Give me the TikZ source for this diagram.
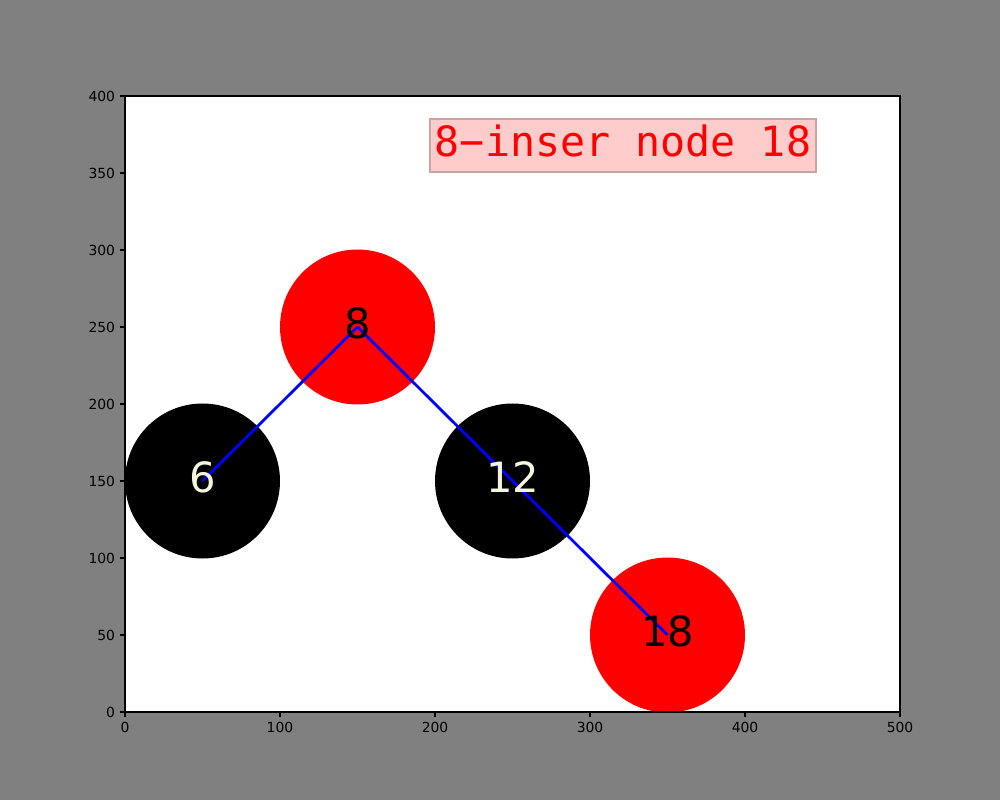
\documentclass[tikz,border=0pt]{standalone}
\usepackage{fontspec}
\setmainfont{DejaVu Sans}
\newfontfamily\titlefont{DejaVu Sans Mono}
\usetikzlibrary{positioning}
\definecolor{figgray}{RGB}{128,128,128}
\definecolor{labelbeige}{RGB}{245,245,220}
\definecolor{titlefill}{RGB}{255,204,204}
\definecolor{titleedge}{RGB}{204,163,163}
\tikzset{
    redvertex/.style={circle,fill=red,minimum size=111.6pt,inner sep=0pt},
    blackvertex/.style={circle,fill=black,minimum size=111.6pt,inner sep=0pt},
    treeedge/.style={draw=blue,line width=2pt},
    vertexlabel/.style={font=\fontsize{30}{36}\selectfont,inner sep=0pt,yshift=2.5pt},
    ticklabel/.style={font=\fontsize{10}{12}\selectfont,inner sep=0pt},
    tickline/.style={line width=0.8pt},
    titlebox/.style={fill=titlefill,draw=titleedge,line width=1pt,text=red,
        font=\titlefont\fontsize{30}{36}\selectfont,inner sep=0pt,
        minimum width=278pt,minimum height=38.2pt,text depth=6.5pt}
}
\begin{document}
\begin{tikzpicture}[x=0.72pt,y=0.72pt]
    % figure and axes area
    \fill[figgray] (0,0) rectangle (1000,800);
    \fill[white] (125,88) rectangle (900,704);
    \begin{scope}[shift={(125,88)},xscale=1.55,yscale=1.54]
        \node[redvertex] (n8) at (150,250) {};
        \node[blackvertex] (n6) at (50,150) {};
        \node[blackvertex] (n12) at (250,150) {};
        \node[redvertex] (n18) at (350,50) {};
        \draw[treeedge] (n8.center) -- (n6.center);
        \draw[treeedge] (n8.center) -- (n12.center);
        \draw[treeedge] (n12.center) -- (n18.center);
        \node[vertexlabel,text=black] (t8) at (n8) {8};
        \node[vertexlabel,text=labelbeige] (t6) at (n6) {6};
        \node[vertexlabel,text=labelbeige] (t12) at (n12) {12};
        \node[vertexlabel,text=black] (t18) at (n18) {18};
    \end{scope}
    % spines and ticks
    \draw[tickline] (125,88) rectangle (900,704);
    \foreach \v in {0,100,...,500} {
        \draw[tickline] ({125+1.55*\v},88) -- ++(0,-4.86);
        \node[ticklabel,anchor=north] (xt\v) at ({125+1.55*\v},78.3) {\v};
    }
    \foreach \v in {0,50,...,400} {
        \draw[tickline] (125,{88+1.54*\v}) -- ++(-4.86,0);
        \node[ticklabel,anchor=east] (yt\v) at (115.3,{88+1.54*\v}) {\v};
    }
    % title
    \node[titlebox] (title) at (623,654.5) {8−inser node 18};
\end{tikzpicture}
\end{document}
